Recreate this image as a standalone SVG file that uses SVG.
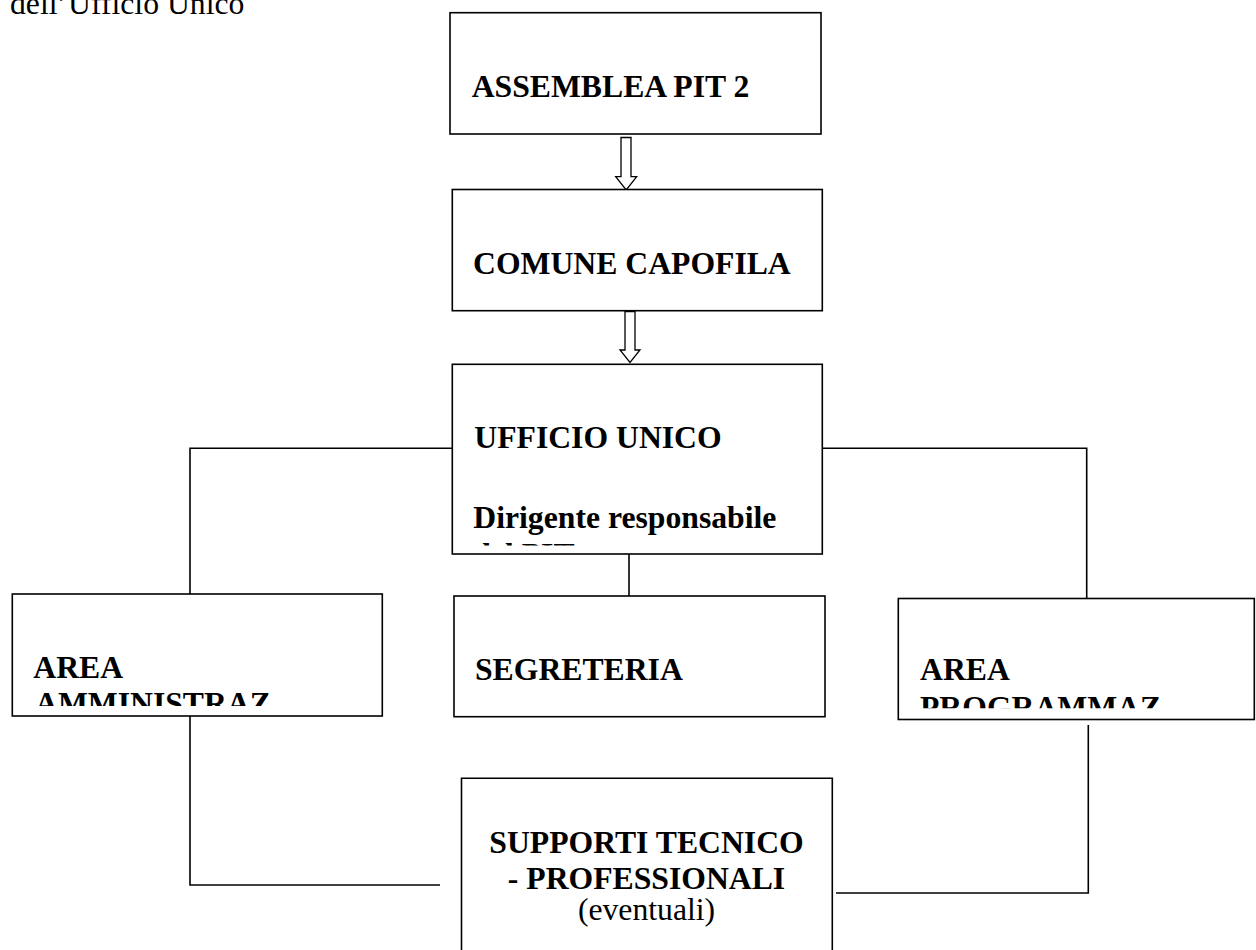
<svg xmlns="http://www.w3.org/2000/svg" width="1256" height="950" viewBox="0 0 1256 950">
<style>
.box{fill:#fff;stroke:#000;stroke-width:1.6}
.t{font-family:"Liberation Serif","Times New Roman",serif;font-weight:bold;font-size:31.7px;fill:#000}
.r{font-family:"Liberation Serif","Times New Roman",serif;font-size:31.7px;fill:#000}
.ln{fill:none;stroke:#000;stroke-width:1.6}
.arr{fill:#fff;stroke:#000;stroke-width:1.3}
</style>
<defs>
<clipPath id="cU"><rect x="452" y="364" width="371" height="181.5"/></clipPath>
<clipPath id="cA"><rect x="12" y="594" width="371" height="112"/></clipPath>
<clipPath id="cP"><rect x="898" y="598" width="358" height="110.3"/></clipPath>
</defs>
<rect width="1256" height="950" fill="#fff"/>
<text class="r" x="10" y="13.5">dell’Ufficio Unico</text>
<g id="connectors">
<path class="ln" d="M452.7,448.3 H190 V594"/>
<path class="ln" d="M822.7,448.3 H1086.7 V598.5"/>
<path class="ln" d="M629,554 V596"/>
<path class="ln" d="M190,716 V885 H440"/>
<path class="ln" d="M1088.3,725 V893 H836"/>
<polygon class="arr" points="621,137.5 631,137.5 631,176.7 636.7,176.7 626.2,190 615.7,176.7 621,176.7"/>
<polygon class="arr" points="625,311.5 635,311.5 635,350 640,350 630,362.5 620,350 625,350"/>
</g>
<g id="assemblea">
<rect class="box" x="450" y="12.7" width="371" height="121.3"/>
<text class="t" x="471.7" y="96.7">ASSEMBLEA PIT 2</text>
</g>
<g id="comune">
<rect class="box" x="452.3" y="189.5" width="370" height="121.2"/>
<text class="t" x="473" y="274">COMUNE CAPOFILA</text>
</g>
<g id="ufficio">
<rect class="box" x="452.3" y="364.3" width="370" height="189.7"/>
<text class="t" x="474.3" y="447.7">UFFICIO UNICO</text>
<g clip-path="url(#cU)">
<text class="t" x="473.3" y="528.3">Dirigente responsabile</text>
<text class="t" x="473.3" y="564.8">del PIT</text>
</g>
</g>
<g id="area-amm">
<rect class="box" x="12.3" y="594" width="370" height="122"/>
<g clip-path="url(#cA)">
<text class="t" x="33.3" y="677.7">AREA</text>
<text class="t" x="35" y="714.3">AMMINISTRAZ</text>
</g>
</g>
<g id="segreteria">
<rect class="box" x="454" y="596" width="371" height="120.7"/>
<text class="t" x="475" y="680">SEGRETERIA</text>
</g>
<g id="area-prog">
<rect class="box" x="898.3" y="598.5" width="356" height="121"/>
<g clip-path="url(#cP)">
<text class="t" x="920" y="680">AREA</text>
<text class="t" x="920" y="717.7">PROGRAMMAZ</text>
</g>
</g>
<g id="supporti">
<path class="box" d="M461.5,951 V778.3 H832.3 V951"/>
<text class="t" x="646.5" y="853" text-anchor="middle">SUPPORTI TECNICO</text>
<text class="t" x="646.5" y="889" text-anchor="middle">- PROFESSIONALI</text>
<text class="r" x="646.5" y="920" text-anchor="middle">(eventuali)</text>
</g>
</svg>
